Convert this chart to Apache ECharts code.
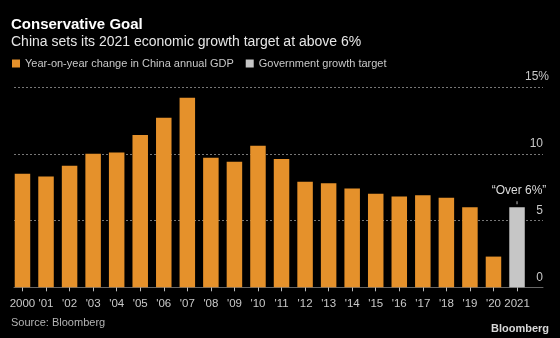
<!DOCTYPE html>
<html>
<head>
<meta charset="utf-8">
<script src="https://cdn.jsdelivr.net/npm/echarts@6/dist/echarts.min.js"></script>
<style>
html,body{margin:0;padding:0;background:#000;}
#c{width:560px;height:338px;}
</style>
</head>
<body>
<div id="c"></div>
<script>
var years = ['2000', "'01", "'02", "'03", "'04", "'05", "'06", "'07", "'08", "'09", "'10", "'11", "'12", "'13", "'14", "'15", "'16", "'17", "'18", "'19", "'20", '2021'];
var gdpGrowth = [8.5, 8.3, 9.1, 10.0, 10.1, 11.4, 12.7, 14.2, 9.7, 9.4, 10.6, 9.6, 7.9, 7.8, 7.4, 7.0, 6.8, 6.9, 6.7, 6.0, 2.3, '-'];
var govTarget = ['-', '-', '-', '-', '-', '-', '-', '-', '-', '-', '-', '-', '-', '-', '-', '-', '-', '-', '-', '-', '-', 6];
var yTicks = [0, 5, 10, 15];

var FONT = '"Liberation Sans", Arial, sans-serif';
var chart = echarts.init(document.getElementById('c'), null, {renderer: 'canvas'});

var option = {
  backgroundColor: '#000',
  animation: false,
  textStyle: {fontFamily: FONT},
  title: {
    left: 11, top: 17, padding: 0,
    text: 'Conservative Goal',
    subtext: 'China sets its 2021 economic growth target at above 6%',
    itemGap: 3,
    textStyle: {color: '#fff', fontSize: 15, fontWeight: 'bold', fontFamily: FONT},
    subtextStyle: {color: '#e6e6e6', fontSize: 14, fontFamily: FONT}
  },
  legend: {
    left: 12, top: 58, padding: 0,
    itemWidth: 8, itemHeight: 8, itemGap: 12,
    icon: 'rect',
    textStyle: {color: '#c8c8c8', fontSize: 11, fontFamily: FONT},
    data: ['Year-on-year change in China annual GDP', 'Government growth target']
  },
  grid: [
    {left: 10.7, right: 31.2, top: 87, bottom: 50.7},
    {left: 14, right: 17, top: 87, bottom: 50.7},
    {left: 14, right: 11, top: 87, bottom: 50.7}
  ],
  xAxis: [
    {
      gridIndex: 0, type: 'category', data: years,
      axisLine: {show: false},
      axisTick: {show: true, alignWithLabel: true, length: 4, lineStyle: {color: '#bbb'}},
      axisLabel: {color: '#c8c8c8', fontSize: 11.5, margin: 11, interval: 0, fontFamily: FONT},
      splitLine: {show: false}
    },
    {
      gridIndex: 1, type: 'value', min: 0, max: 1, show: true,
      axisLine: {show: true, onZero: false, lineStyle: {color: '#666', width: 1}},
      axisTick: {show: false}, axisLabel: {show: false}, splitLine: {show: false}
    },
    {
      gridIndex: 2, type: 'value', min: 0, max: 1, show: false
    }
  ],
  yAxis: [
    {gridIndex: 0, type: 'value', min: 0, max: 15, interval: 5, show: false},
    {
      gridIndex: 1, type: 'value', min: 0, max: 15, interval: 5, position: 'right',
      axisLine: {show: false}, axisTick: {show: false}, axisLabel: {show: false},
      splitLine: {show: true, lineStyle: {color: '#777', type: [2, 2], width: 1}}
    },
    {
      gridIndex: 2, type: 'value', min: 0, max: 15, interval: 5, position: 'right',
      axisLine: {show: false}, axisTick: {show: false}, splitLine: {show: false},
      axisLabel: {
        inside: true, margin: 0, color: '#c8c8c8', fontSize: 12, fontFamily: FONT,
        verticalAlign: 'bottom', padding: [0, 0, 4, 0],
        formatter: function (v) {
          return v === yTicks[yTicks.length - 1] ? v + '%' : '{n|' + v + '}';
        },
        rich: {
          n: {color: '#c8c8c8', fontSize: 12, fontFamily: FONT, padding: [0, 6, 0, 0]}
        }
      }
    }
  ],
  series: [
    {
      name: 'Year-on-year change in China annual GDP',
      type: 'bar', xAxisIndex: 0, yAxisIndex: 0,
      data: gdpGrowth, barWidth: 15.5, barGap: '-100%',
      itemStyle: {color: '#E5912B'}
    },
    {
      name: 'Government growth target',
      type: 'bar', xAxisIndex: 0, yAxisIndex: 0,
      data: govTarget, barWidth: 15.5, barGap: '-100%',
      itemStyle: {color: '#C6C6C6'},
      label: {
        show: true, position: 'top', distance: 3,
        formatter: '{t|\u201cOver 6%\u201d}\n{l|}',
        rich: {
          t: {color: '#dcdcdc', fontSize: 12, fontFamily: FONT, align: 'center', lineHeight: 14, padding: [0, 0, 6, 4]},
          l: {width: 1, height: 3, backgroundColor: '#bbb', align: 'center'}
        }
      }
    }
  ],
  graphic: [
    {type: 'text', left: 11, top: 317, style: {text: 'Source: Bloomberg', fill: '#b4b4b4', font: '11px ' + FONT}},
    {type: 'text', right: 11, top: 323, style: {text: 'Bloomberg', fill: '#d8d8d8', font: 'bold 11px ' + FONT}}
  ]
};
chart.setOption(option);
</script>
</body>
</html>
